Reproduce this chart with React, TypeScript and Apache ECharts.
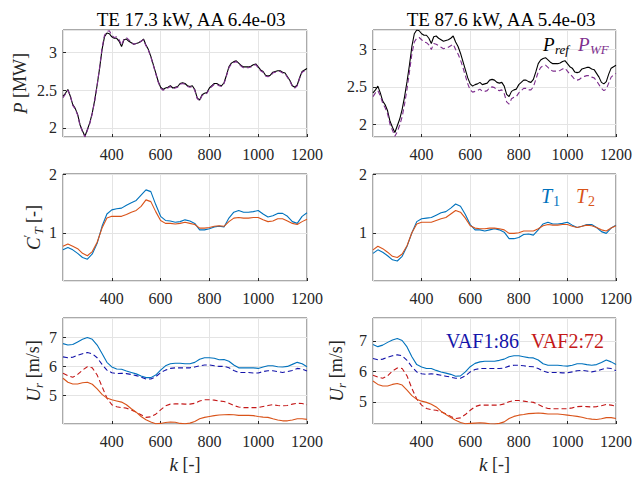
import React, { useEffect, useRef } from 'react';
import * as echarts from 'echarts';

// ---------- data ----------
const kFine = Array.from({ length: 101 }, (_, i) => 200 + i * 10);
const kCoarse = Array.from({ length: 51 }, (_, i) => 200 + i * 20);

const pRef = [2.42, 2.46, 2.51, 2.42, 2.31, 2.26, 2.18, 2.04, 1.96, 1.89, 1.98, 2.07, 2.2, 2.37, 2.57, 2.79, 3.04, 3.21, 3.26, 3.25,
  3.21, 3.19, 3.19, 3.15, 3.08, 3.17, 3.18, 3.15, 3.13, 3.11, 3.12, 3.13, 3.15, 3.18, 3.1, 3.04, 2.95, 2.84, 2.73, 2.62,
  2.54, 2.51, 2.53, 2.54, 2.56, 2.53, 2.54, 2.55, 2.59, 2.6, 2.59, 2.56, 2.55, 2.56, 2.51, 2.4, 2.37, 2.44, 2.46, 2.47,
  2.53, 2.56, 2.59, 2.59, 2.57, 2.56, 2.6, 2.7, 2.81, 2.86, 2.88, 2.89, 2.86, 2.83, 2.81, 2.81, 2.81, 2.82, 2.84, 2.85,
  2.81, 2.77, 2.75, 2.7, 2.69, 2.7, 2.74, 2.75, 2.76, 2.76, 2.74, 2.73, 2.68, 2.63, 2.56, 2.54, 2.57, 2.67, 2.75, 2.77, 2.79];
const pWfLeft = [2.4, 2.45, 2.5, 2.43, 2.3, 2.25, 2.17, 2.03, 1.95, 1.88, 1.97, 2.06, 2.19, 2.36, 2.57, 2.8, 3.06, 3.23, 3.28, 3.29,
  3.23, 3.2, 3.21, 3.17, 3.1, 3.18, 3.2, 3.17, 3.14, 3.11, 3.12, 3.13, 3.15, 3.17, 3.09, 3.03, 2.94, 2.83, 2.72, 2.61,
  2.53, 2.5, 2.52, 2.53, 2.55, 2.52, 2.53, 2.54, 2.58, 2.59, 2.58, 2.55, 2.54, 2.55, 2.5, 2.39, 2.36, 2.43, 2.45, 2.46,
  2.52, 2.55, 2.58, 2.58, 2.56, 2.55, 2.59, 2.69, 2.8, 2.85, 2.87, 2.88, 2.85, 2.82, 2.8, 2.8, 2.8, 2.81, 2.83, 2.84,
  2.8, 2.76, 2.74, 2.69, 2.68, 2.69, 2.73, 2.74, 2.75, 2.75, 2.73, 2.72, 2.67, 2.62, 2.55, 2.53, 2.56, 2.66, 2.74, 2.76, 2.78];
const pWfRight = [2.37, 2.42, 2.45, 2.38, 2.28, 2.22, 2.14, 2.0, 1.92, 1.84, 1.9, 1.99, 2.1, 2.27, 2.47, 2.7, 2.94, 3.1, 3.15, 3.16,
  3.13, 3.1, 3.09, 3.06, 3.0, 3.08, 3.07, 3.05, 3.03, 3.01, 3.02, 3.03, 3.05, 3.07, 3.0, 2.94, 2.86, 2.76, 2.65, 2.54,
  2.46, 2.43, 2.44, 2.45, 2.47, 2.44, 2.44, 2.45, 2.49, 2.5, 2.49, 2.46, 2.45, 2.46, 2.41, 2.3, 2.27, 2.34, 2.36, 2.37,
  2.42, 2.45, 2.48, 2.48, 2.46, 2.46, 2.5, 2.6, 2.7, 2.76, 2.78, 2.79, 2.76, 2.73, 2.71, 2.71, 2.71, 2.72, 2.74, 2.75,
  2.71, 2.67, 2.64, 2.6, 2.59, 2.6, 2.63, 2.64, 2.65, 2.65, 2.63, 2.62, 2.58, 2.53, 2.48, 2.45, 2.47, 2.55, 2.63, 2.66, 2.68];

const ct1Left = [0.71, 0.75, 0.71, 0.65, 0.58, 0.55, 0.64, 0.82, 1.11, 1.32, 1.39, 1.41, 1.42, 1.47, 1.51, 1.55, 1.64, 1.73, 1.7, 1.48,
  1.28, 1.21, 1.2, 1.18, 1.19, 1.22, 1.2, 1.16, 1.05, 1.05, 1.07, 1.1, 1.11, 1.1, 1.25, 1.35, 1.38, 1.35, 1.35, 1.36,
  1.38, 1.32, 1.27, 1.29, 1.33, 1.33, 1.28, 1.19, 1.16, 1.28, 1.34];
const ct2Left = [0.77, 0.81, 0.77, 0.73, 0.65, 0.61, 0.68, 0.84, 1.08, 1.25, 1.28, 1.28, 1.28, 1.31, 1.35, 1.38, 1.45, 1.56, 1.53, 1.36,
  1.21, 1.16, 1.16, 1.15, 1.16, 1.18, 1.16, 1.14, 1.08, 1.08, 1.09, 1.11, 1.12, 1.11, 1.19, 1.25, 1.26, 1.25, 1.25, 1.26,
  1.26, 1.22, 1.19, 1.2, 1.24, 1.24, 1.2, 1.16, 1.14, 1.19, 1.23];
const ct1Right = [0.65, 0.71, 0.67, 0.61, 0.54, 0.52, 0.6, 0.77, 1.0, 1.19, 1.24, 1.25, 1.26, 1.3, 1.34, 1.36, 1.42, 1.49, 1.45, 1.31,
  1.14, 1.05, 1.05, 1.03, 1.05, 1.07, 1.05, 1.01, 0.9, 0.9, 0.92, 0.97, 0.98, 0.96, 1.05, 1.15, 1.18, 1.15, 1.15, 1.16,
  1.18, 1.13, 1.09, 1.11, 1.14, 1.14, 1.09, 1.02, 0.99, 1.08, 1.13];
const ct2Right = [0.71, 0.77, 0.73, 0.67, 0.6, 0.58, 0.64, 0.78, 1.0, 1.15, 1.18, 1.18, 1.18, 1.21, 1.24, 1.26, 1.32, 1.38, 1.35, 1.25,
  1.12, 1.08, 1.07, 1.07, 1.08, 1.08, 1.07, 1.05, 0.99, 0.99, 1.0, 1.03, 1.03, 1.03, 1.07, 1.12, 1.14, 1.13, 1.13, 1.14,
  1.14, 1.11, 1.09, 1.11, 1.13, 1.12, 1.09, 1.05, 1.03, 1.08, 1.12];

const u1Left = [6.79, 6.74, 6.76, 6.85, 6.94, 7.0, 6.94, 6.74, 6.45, 6.14, 5.98, 5.91, 5.9, 5.84, 5.79, 5.74, 5.67, 5.61, 5.61, 5.7,
  5.87, 6.02, 6.09, 6.11, 6.11, 6.09, 6.09, 6.14, 6.25, 6.3, 6.3, 6.28, 6.23, 6.24, 6.18, 6.05, 5.95, 5.95, 5.95, 5.95,
  5.93, 5.98, 6.02, 6.02, 5.99, 5.98, 6.0, 6.07, 6.14, 6.09, 5.99];
const u1EstLeft = [6.33, 6.3, 6.32, 6.39, 6.44, 6.48, 6.44, 6.3, 6.07, 5.87, 5.78, 5.75, 5.76, 5.75, 5.72, 5.68, 5.63, 5.56, 5.56, 5.64,
  5.78, 5.87, 5.93, 5.95, 5.95, 5.95, 5.95, 5.98, 6.02, 6.05, 6.05, 6.02, 6.0, 6.0, 5.95, 5.86, 5.79, 5.79, 5.79, 5.77,
  5.77, 5.82, 5.85, 5.85, 5.82, 5.79, 5.82, 5.86, 5.93, 5.91, 5.84];
const u2EstLeft = [5.76, 5.68, 5.62, 5.72, 5.87, 5.99, 5.95, 5.7, 5.3, 4.9, 4.67, 4.6, 4.57, 4.55, 4.49, 4.41, 4.32, 4.23, 4.25, 4.34,
  4.49, 4.63, 4.69, 4.7, 4.7, 4.69, 4.69, 4.72, 4.8, 4.84, 4.84, 4.83, 4.8, 4.78, 4.72, 4.64, 4.59, 4.57, 4.57, 4.57,
  4.57, 4.61, 4.64, 4.67, 4.64, 4.63, 4.64, 4.69, 4.72, 4.71, 4.67];
const u2Left = [5.59, 5.45, 5.39, 5.39, 5.43, 5.45, 5.38, 5.22, 5.03, 4.9, 4.84, 4.8, 4.76, 4.67, 4.53, 4.41, 4.26, 4.15, 4.07, 4.01,
  4.02, 4.05, 4.07, 4.06, 4.02, 4.01, 4.03, 4.09, 4.18, 4.23, 4.26, 4.29, 4.31, 4.32, 4.33, 4.32, 4.3, 4.3, 4.3, 4.29,
  4.26, 4.24, 4.23, 4.18, 4.14, 4.11, 4.11, 4.14, 4.18, 4.18, 4.16];

const u1Right = [6.88, 6.81, 6.86, 6.95, 7.03, 7.08, 7.01, 6.8, 6.48, 6.22, 6.14, 6.09, 6.09, 6.03, 5.98, 5.94, 5.9, 5.84, 5.85, 5.98,
  6.15, 6.26, 6.31, 6.33, 6.33, 6.33, 6.36, 6.4, 6.48, 6.51, 6.51, 6.48, 6.45, 6.44, 6.37, 6.25, 6.2, 6.2, 6.2, 6.18,
  6.17, 6.2, 6.25, 6.25, 6.22, 6.2, 6.22, 6.29, 6.37, 6.31, 6.22];
const u1EstRight = [6.42, 6.38, 6.4, 6.46, 6.51, 6.54, 6.51, 6.36, 6.15, 5.98, 5.92, 5.9, 5.92, 5.9, 5.87, 5.84, 5.81, 5.77, 5.77, 5.85,
  5.98, 6.06, 6.09, 6.09, 6.09, 6.09, 6.09, 6.11, 6.17, 6.2, 6.2, 6.18, 6.16, 6.15, 6.09, 6.01, 5.96, 5.96, 5.96, 5.95,
  5.95, 5.98, 6.02, 6.03, 6.01, 5.98, 6.01, 6.06, 6.11, 6.09, 6.02];
const u2EstRight = [5.87, 5.81, 5.77, 5.85, 6.01, 6.11, 6.09, 5.85, 5.44, 5.09, 4.89, 4.78, 4.74, 4.72, 4.67, 4.61, 4.52, 4.45, 4.47, 4.58,
  4.72, 4.84, 4.89, 4.89, 4.89, 4.89, 4.89, 4.93, 5.0, 5.04, 5.04, 5.02, 5.0, 4.98, 4.91, 4.83, 4.78, 4.77, 4.77, 4.77,
  4.77, 4.8, 4.84, 4.85, 4.84, 4.83, 4.84, 4.87, 4.91, 4.89, 4.85];
const u2Right = [5.68, 5.57, 5.52, 5.52, 5.57, 5.6, 5.55, 5.38, 5.2, 5.08, 5.02, 4.98, 4.92, 4.83, 4.69, 4.58, 4.48, 4.39, 4.32, 4.28,
  4.29, 4.3, 4.31, 4.3, 4.28, 4.27, 4.29, 4.34, 4.45, 4.52, 4.56, 4.58, 4.61, 4.62, 4.63, 4.62, 4.6, 4.6, 4.6, 4.58,
  4.56, 4.54, 4.52, 4.49, 4.45, 4.43, 4.42, 4.44, 4.48, 4.48, 4.45];

const titles = ['TE 17.3 kW, AA 6.4e-03', 'TE 87.6 kW, AA 5.4e-03'];
const xTicks = { min: 200, max: 1200, step: 200 };
const yRanges = [
  { min: 1.88, max: 3.3, step: 0.5 },
  { min: 1.83, max: 3.26, step: 0.5 },
  { min: 0.18, max: 2, step: 1 },
  { min: 0.18, max: 2, step: 1 },
  { min: 4.0, max: 7.68, step: 1 },
  { min: 4.27, max: 7.75, step: 1 },
];

// ---------- style ----------
const SERIF = 'Liberation Serif';
const AXC = '#262626';
const BLACK = '#000000';
const PURPLE = '#7E2F8E';
const BLUE = '#0072BD';
const ORANGE = '#D95319';
const DBLUE = '#1414aa';
const DRED = '#c41818';

const yNames = ['{i|P}{n| [MW]}', '', '{i|C}{sup|′}{sub|T}{n| [-]}', '', '{i|U}{sub|r}{n| [m/s]}', '{i|U}{sub|r}{n| [m/s]}'];
const yGaps = [31, 0, 17, 0, 17, 25];

function pairs(k: number[], v: number[]) {
  return k.map((x, i) => [x, v[i]]);
}

function buildOption(): any {
  const grids = [
    { left: 63, top: 30, width: 244, height: 107 },
    { left: 373, top: 30, width: 243, height: 107 },
    { left: 63, top: 174, width: 244, height: 107 },
    { left: 373, top: 174, width: 243, height: 107 },
    { left: 63, top: 318, width: 244, height: 106 },
    { left: 373, top: 318, width: 243, height: 106 },
  ];

  const nameRich = () => ({
    i: { fontFamily: SERIF, fontStyle: 'italic', fontSize: 19, lineHeight: 24, color: AXC },
    n: { fontFamily: SERIF, fontSize: 18, lineHeight: 24, color: AXC },
    sub: { fontFamily: SERIF, fontStyle: 'italic', fontSize: 13, lineHeight: 13, verticalAlign: 'bottom', color: AXC },
    sup: { fontFamily: SERIF, fontSize: 13, lineHeight: 13, verticalAlign: 'top', color: AXC },
  });

  const line = (gi: number, k: number[], v: number[], color: string, dashed: boolean, name: string) => ({
    type: 'line',
    name,
    xAxisIndex: gi,
    yAxisIndex: gi,
    data: pairs(k, v),
    showSymbol: false,
    symbol: 'none',
    silent: true,
    clip: true,
    lineStyle: { color, width: 1.1, type: dashed ? [5, 3] : 'solid' },
    itemStyle: { color },
  });

  const txt = (x: number, y: number, text: string, color: string, font: string) => ({
    type: 'text',
    x,
    y,
    silent: true,
    z: 100,
    style: { text, font, fill: color, align: 'left', verticalAlign: 'middle' },
  });

  return {
    animation: false,
    backgroundColor: '#ffffff',
    textStyle: { fontFamily: SERIF, fontSize: 16, color: AXC },
    title: titles.map((t, i) => ({
      text: t,
      left: i === 0 ? 186 : 496,
      top: 5,
      textAlign: 'center',
      textStyle: { fontFamily: SERIF, fontSize: 19, fontWeight: 'normal', color: '#000' },
    })),
    grid: grids.map((g) => ({ ...g, show: true, borderColor: '#555555', borderWidth: 1 })),
    xAxis: grids.map((_, gi) => ({
      type: 'value',
      gridIndex: gi,
      min: xTicks.min,
      max: xTicks.max,
      interval: xTicks.step,
      axisLine: { show: false },
      axisTick: { show: true, inside: true, length: 3, lineStyle: { color: AXC } },
      axisLabel: {
        fontFamily: SERIF,
        fontSize: 16,
        color: AXC,
        margin: 9,
        showMinLabel: false,
        formatter: (v: number) => String(v),
      },
      splitLine: { show: true, lineStyle: { color: '#e4e4e4', width: 1 } },
      name: gi >= 4 ? '{i|k}{n| [-]}' : '',
      nameLocation: 'middle',
      nameGap: 28,
      nameTextStyle: { fontFamily: SERIF, fontSize: 18, rich: nameRich() },
    })),
    yAxis: grids.map((_, gi) => ({
      type: 'value',
      gridIndex: gi,
      min: yRanges[gi].min,
      max: yRanges[gi].max,
      minInterval: yRanges[gi].step,
      maxInterval: yRanges[gi].step,
      axisLine: { show: false },
      axisTick: { show: true, inside: true, length: 3, lineStyle: { color: AXC } },
      axisLabel: {
        fontFamily: SERIF,
        fontSize: 16,
        color: AXC,
        margin: 6,
        showMinLabel: false,
        showMaxLabel: yRanges[gi].max === 2,
        formatter: (v: number) => String(v),
      },
      splitLine: { show: true, lineStyle: { color: '#e4e4e4', width: 1 } },
      name: yNames[gi],
      nameLocation: 'middle',
      nameRotate: 90,
      nameGap: yGaps[gi],
      nameTextStyle: { fontFamily: SERIF, fontSize: 18, rich: nameRich() },
    })),
    series: [
      line(0, kFine, pRef, BLACK, false, 'P_ref'),
      line(0, kFine, pWfLeft, PURPLE, true, 'P_WF'),
      line(1, kFine, pRef, BLACK, false, 'P_ref'),
      line(1, kFine, pWfRight, PURPLE, true, 'P_WF'),
      line(2, kCoarse, ct1Left, BLUE, false, 'T1'),
      line(2, kCoarse, ct2Left, ORANGE, false, 'T2'),
      line(3, kCoarse, ct1Right, BLUE, false, 'T1'),
      line(3, kCoarse, ct2Right, ORANGE, false, 'T2'),
      line(4, kCoarse, u1Left, BLUE, false, 'U1'),
      line(4, kCoarse, u1EstLeft, DBLUE, true, 'U1 est'),
      line(4, kCoarse, u2EstLeft, DRED, true, 'U2 est'),
      line(4, kCoarse, u2Left, ORANGE, false, 'U2'),
      line(5, kCoarse, u1Right, BLUE, false, 'U1'),
      line(5, kCoarse, u1EstRight, DBLUE, true, 'U1 est'),
      line(5, kCoarse, u2EstRight, DRED, true, 'U2 est'),
      line(5, kCoarse, u2Right, ORANGE, false, 'U2'),
    ],
    graphic: [
      txt(543, 44, 'P', BLACK, `italic 19px ${SERIF}`),
      txt(555, 49, 'ref', BLACK, `italic 13px ${SERIF}`),
      txt(578, 44, 'P', PURPLE, `italic 19px ${SERIF}`),
      txt(590, 49, 'WF', PURPLE, `italic 13px ${SERIF}`),
      txt(541, 196, 'T', BLUE, `italic 20px ${SERIF}`),
      txt(553, 201, '1', BLUE, `14px ${SERIF}`),
      txt(576, 196, 'T', ORANGE, `italic 20px ${SERIF}`),
      txt(588, 201, '2', ORANGE, `14px ${SERIF}`),
      txt(446, 341, 'VAF1:86', DBLUE, `20px ${SERIF}`),
      txt(531, 341, 'VAF2:72', DRED, `20px ${SERIF}`),
    ],
  };
}

export default function App() {
  const ref = useRef<HTMLDivElement>(null);
  useEffect(() => {
    document.body.style.margin = '0';
    const chart = echarts.init(ref.current as HTMLDivElement, null, { renderer: 'svg' });
    chart.setOption(buildOption());
    return () => chart.dispose();
  }, []);
  return <div ref={ref} style={{ width: 635, height: 477 }} />;
}
